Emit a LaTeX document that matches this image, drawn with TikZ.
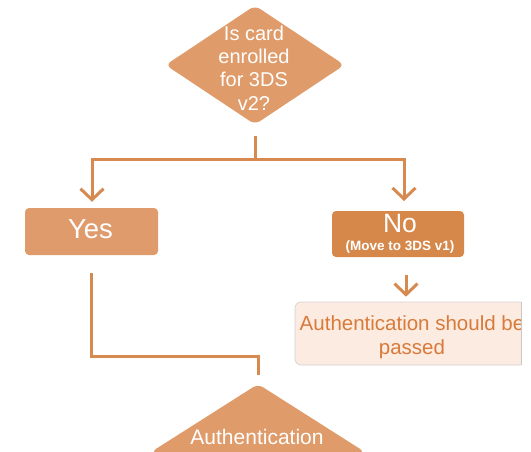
\documentclass[tikz,border=0pt]{standalone}
\usepackage{fontspec}
\setmainfont{Liberation Sans}
\usetikzlibrary{shapes.geometric,arrows.meta}
\definecolor{lineor}{HTML}{D78A4F}
\definecolor{diaor}{HTML}{DF9B69}
\definecolor{yesor}{HTML}{DF9B6B}
\definecolor{noor}{HTML}{D6884A}
\definecolor{authfill}{HTML}{FBEBE1}
\definecolor{authtext}{HTML}{D97A3A}
\tikzset{
  conn/.style={draw=lineor, line width=3pt},
  arr/.style={conn, -{Straight Barb[length=11pt,width=23pt,line width=3pt]}},
  dia/.style={diamond, fill=diaor, rounded corners=6pt, inner sep=0pt},
  boxor/.style={rectangle, rounded corners=4pt, inner sep=0pt, text=white},
}
\begin{document}
\begin{tikzpicture}[x=1pt,y=-1pt]
\useasboundingbox (0,0) rectangle (531,452);
% top decision
\node[dia, minimum width=179pt, minimum height=119pt] (q) at (255,65) {};
\node[text=white, align=center, font=\fontsize{20}{23.3}\selectfont, inner sep=0pt] (qt) at (254,68) {Is card\\enrolled\\for 3DS\\v2?};
% Yes / No boxes
\node[boxor, fill=yesor, minimum width=133pt, minimum height=47pt] (yes) at (91.5,231.5) {};
\node[text=white, font=\fontsize{27.5}{30}\selectfont, inner sep=0pt] (yest) at (90.5,229) {Yes};
\node[boxor, fill=noor, minimum width=132pt, minimum height=46pt] (no) at (398,234) {};
\node[text=white, font=\fontsize{26.5}{28}\selectfont, inner sep=0pt] (not) at (400,224) {No};
\node[text=white, font=\bfseries\fontsize{13.5}{15}\selectfont, inner sep=0pt] (mv) at (400,247) {(Move to 3DS v1)};
% junction
\coordinate (j) at (255,160);
\coordinate (jl) at (92,160);
\coordinate (jr) at (404,160);
\draw[conn] ([yshift=-11pt]q.south) -- (j);
\draw[arr] (j) -- (jl) -- ([yshift=6pt]yes.north -| jl);
\draw[arr] (j) -- (jr) -- (404,201);
% auth box
\begin{scope}
\clip (0,0) rectangle (521,452);
\node[rectangle, rounded corners=6pt, fill=authfill, draw=black!18, line width=0.6pt, minimum width=234pt, minimum height=63pt] (auth) at (412,333.5) {};
\node[text=authtext, align=center, font=\fontsize{20.5}{24}\selectfont, inner sep=0pt] (autht) at (412,337) {Authentication should be\\passed};
\end{scope}
\draw[black!22, line width=1pt] (521,302) -- (521,365);
\coordinate (na) at (406,275);
\draw[arr] (na) -- ([yshift=5pt]auth.north -| na);
% bottom decision
\node[dia, minimum width=214pt, minimum height=136pt] (bot) at (258,452) {};
\node[text=white, font=\fontsize{21}{24}\selectfont, inner sep=0pt] (bott) at (257,437) {Authentication};
\coordinate (k) at (258,356);
\draw[conn] ([yshift=-18pt]yes.south) |- (k) -- ([yshift=9pt]bot.north);
\end{tikzpicture}
\end{document}
